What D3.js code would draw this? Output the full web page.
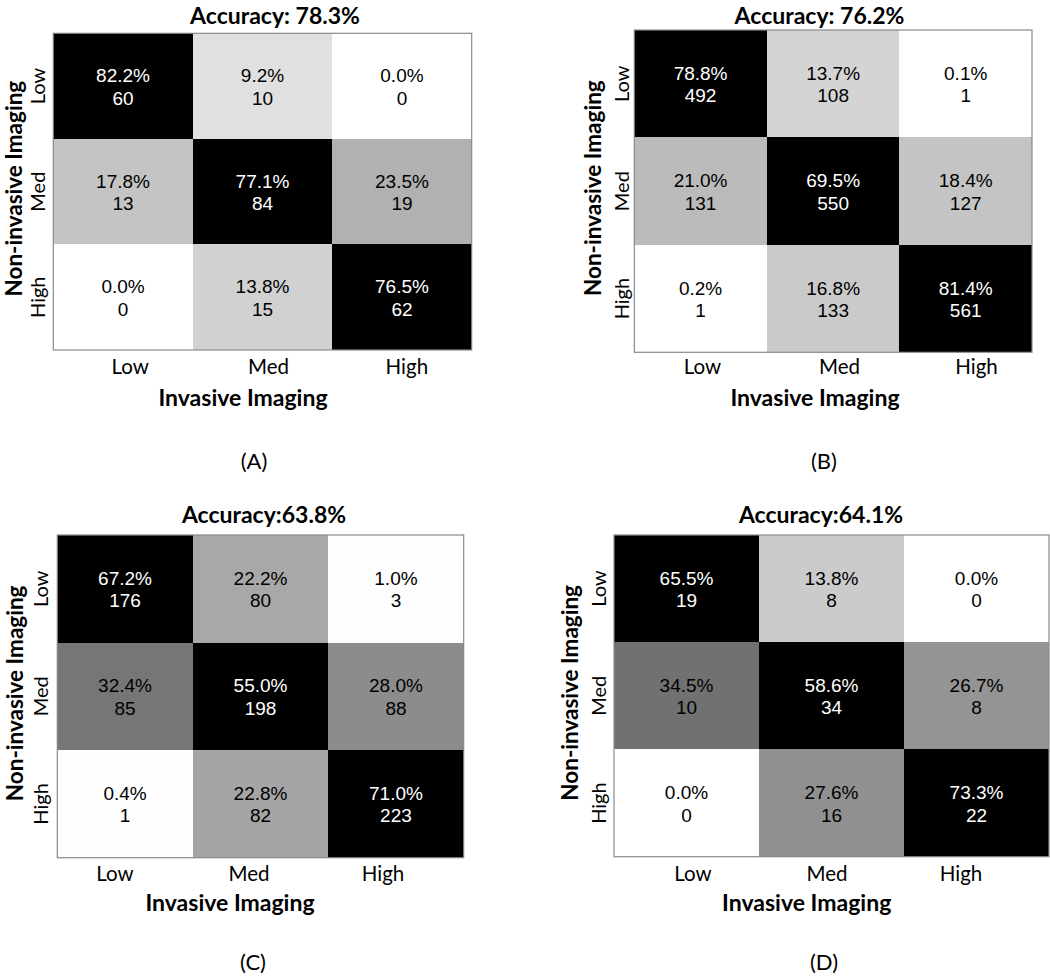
<!DOCTYPE html>
<html>
<head>
<meta charset="utf-8">
<script src="https://cdn.jsdelivr.net/npm/d3@7"></script>
<style>
  html, body { margin: 0; padding: 0; background: #ffffff; }
  svg { display: block; }
</style>
</head>
<body>
<script>
// ---------------- DATA ----------------
const categories = ["Low", "Med", "High"];          // both axes
const titles = ["Accuracy: 78.3%", "Accuracy: 76.2%", "Accuracy:63.8%", "Accuracy:64.1%"];
const panelLetters = ["(A)", "(B)", "(C)", "(D)"];
const xAxisTitle = "Invasive Imaging";
const yAxisTitle = "Non-invasive Imaging";

// rows = Non-invasive (Low, Med, High), columns = Invasive (Low, Med, High)
const pctA = [[82.2, 9.2, 0.0], [17.8, 77.1, 23.5], [0.0, 13.8, 76.5]];
const cntA = [[60, 10, 0], [13, 84, 19], [0, 15, 62]];
const pctB = [[78.8, 13.7, 0.1], [21.0, 69.5, 18.4], [0.2, 16.8, 81.4]];
const cntB = [[492, 108, 1], [131, 550, 127], [1, 133, 561]];
const pctC = [[67.2, 22.2, 1.0], [32.4, 55.0, 28.0], [0.4, 22.8, 71.0]];
const cntC = [[176, 80, 3], [85, 198, 88], [1, 82, 223]];
const pctD = [[65.5, 13.8, 0.0], [34.5, 58.6, 26.7], [0.0, 27.6, 73.3]];
const cntD = [[19, 8, 0], [10, 34, 8], [0, 16, 22]];

// ---------------- LAYOUT ----------------
const layout = [
  { x0: 53.3, x1: 471.7, y0: 33.3, y1: 350, gamma: 1.0, titleX: 275, titleY: 23.5,
    xtick: [61, 476], xtickY: 366.7, xtitleX: 243, xtitleY: 398, ytickX: 37.5, ytitleBase: 21.5, letterX: 254, letterY: 461 },
  { x0: 634.3, x1: 1032, y0: 30, y1: 352.3, gamma: 1.1, titleX: 819.5, titleY: 23.5,
    xtick: [634, 1045], xtickY: 366.7, xtitleX: 815, xtitleY: 398, ytickX: 621.5, ytitleBase: 601, letterX: 824, letterY: 461 },
  { x0: 57.3, x1: 463.7, y0: 535, y1: 857.7, gamma: 1.18, titleX: 264, titleY: 523,
    xtick: [48, 450], xtickY: 874, xtitleX: 230, xtitleY: 903, ytickX: 40.5, ytitleBase: 22.5, letterX: 253, letterY: 962 },
  { x0: 614, x1: 1049, y0: 535, y1: 856.7, gamma: 1.1, titleX: 821, titleY: 523,
    xtick: [626, 1028], xtickY: 874, xtitleX: 806.7, xtitleY: 903, ytickX: 598.5, ytitleBase: 577.5, letterX: 824, letterY: 962 }
];

const panels = [
  { pct: pctA, cnt: cntA }, { pct: pctB, cnt: cntB },
  { pct: pctC, cnt: cntC }, { pct: pctD, cnt: cntD }
];

const labelFont = "Lato, 'Open Sans', sans-serif";
const cellFont = "'Liberation Sans', Arial, sans-serif";

const svg = d3.select("body").append("svg")
  .attr("width", 1050).attr("height", 976)
  .attr("viewBox", "0 0 1050 976");

panels.forEach((p, i) => {
  const L = layout[i];
  const g = svg.append("g").attr("class", "panel");

  const x = d3.scaleBand().domain(categories).range([L.x0, L.x1]);
  const y = d3.scaleBand().domain(categories).range([L.y0, L.y1]);
  // grey map: white at 0%, black at the smallest diagonal (correct-class) percentage
  const diagMin = d3.min(categories.map((_, k) => p.pct[k][k]));
  const shade = d3.scalePow().exponent(L.gamma).domain([0, diagMin]).range([0, 1]).clamp(true);
  const color = v => d3.interpolateRgb("#ffffff", "#000000")(shade(v));

  const cells = [];
  categories.forEach((rc, r) => categories.forEach((cc, c) => {
    cells.push({ row: rc, col: cc, pct: p.pct[r][c], cnt: p.cnt[r][c] });
  }));

  g.selectAll("rect.cell").data(cells).join("rect")
    .attr("class", "cell")
    .attr("x", d => x(d.col)).attr("y", d => y(d.row))
    .attr("width", x.bandwidth()).attr("height", y.bandwidth())
    .attr("fill", d => color(d.pct))
    .attr("shape-rendering", "crispEdges");

  const txt = g.selectAll("text.cell").data(cells).join("text")
    .attr("class", "cell")
    .attr("text-anchor", "middle")
    .attr("font-family", cellFont)
    .attr("font-size", 19)
    .attr("fill", d => shade(d.pct) > 0.7 ? "#ffffff" : "#000000");
  txt.append("tspan")
    .attr("x", d => x(d.col) + x.bandwidth() / 2)
    .attr("y", d => y(d.row) + y.bandwidth() / 2 - 4)
    .text(d => d.pct.toFixed(1) + "%");
  txt.append("tspan")
    .attr("x", d => x(d.col) + x.bandwidth() / 2)
    .attr("y", d => y(d.row) + y.bandwidth() / 2 + 18.5)
    .text(d => d.cnt);

  // frame
  g.append("rect")
    .attr("x", L.x0).attr("y", L.y0)
    .attr("width", L.x1 - L.x0).attr("height", L.y1 - L.y0)
    .attr("fill", "none").attr("stroke", "#8a8a8a").attr("stroke-width", 1.2);

  // x tick labels
  const xt = d3.scaleBand().domain(categories).range(L.xtick);
  const xAxis = g.append("g").attr("transform", `translate(0,${L.xtickY})`)
    .call(d3.axisBottom(xt).tickSize(0).tickPadding(0));
  xAxis.select(".domain").remove();
  xAxis.selectAll("text")
    .attr("y", 0).attr("dy", "0.35em")
    .attr("font-family", labelFont).attr("font-size", 20.5).attr("fill", "#000");

  // y tick labels (rotated)
  const yAxis = g.append("g").attr("transform", `translate(${L.ytickX},0)`)
    .call(d3.axisLeft(y).tickSize(0).tickPadding(0));
  yAxis.select(".domain").remove();
  yAxis.selectAll("text")
    .attr("x", 0).attr("y", 0).attr("dy", "0.35em")
    .attr("text-anchor", "middle")
    .attr("transform", "rotate(-90)")
    .attr("font-family", labelFont).attr("font-size", 20).attr("fill", "#000");

  // title
  g.append("text")
    .attr("x", L.titleX).attr("y", L.titleY)
    .attr("text-anchor", "middle")
    .attr("font-family", labelFont).attr("font-weight", "bold").attr("font-size", 23)
    .text(titles[i]);

  // x axis title
  g.append("text")
    .attr("x", L.xtitleX).attr("y", L.xtitleY).attr("dy", "0.35em")
    .attr("text-anchor", "middle")
    .attr("font-family", labelFont).attr("font-weight", "bold").attr("font-size", 23)
    .text(xAxisTitle);

  // y axis title
  g.append("text")
    .attr("transform", `translate(${L.ytitleBase},${(L.y0 + L.y1) / 2 - 3}) rotate(-90)`)
    .attr("text-anchor", "middle")
    .attr("font-family", labelFont).attr("font-weight", "bold").attr("font-size", 22.5)
    .text(yAxisTitle);

  // panel letter
  g.append("text")
    .attr("x", L.letterX).attr("y", L.letterY).attr("dy", "0.35em")
    .attr("text-anchor", "middle")
    .attr("font-family", labelFont).attr("font-size", 22)
    .text(panelLetters[i]);
});
</script>
</body>
</html>
